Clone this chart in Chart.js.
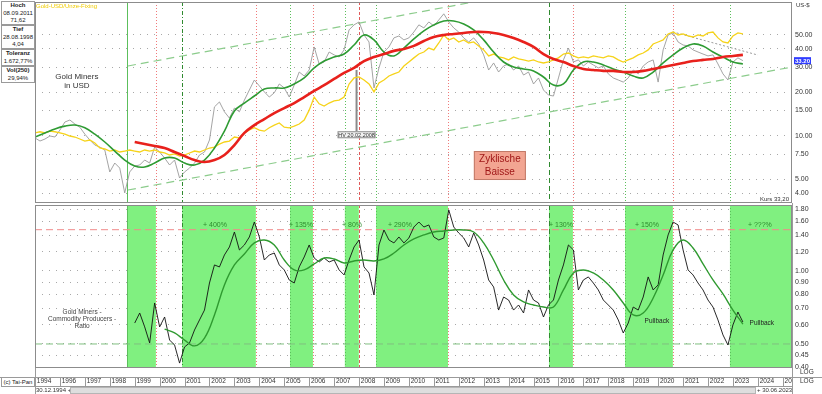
<!DOCTYPE html>
<html>
<head>
<meta charset="utf-8">
<title>Gold Miners in USD / Gold Miners - Commodity Producers - Ratio</title>
<script src="https://cdn.jsdelivr.net/npm/chart.js@4.4.1/dist/chart.umd.min.js"></script>
<style>
  html, body { margin: 0; padding: 0; background: #fff; }
  body { position: relative; width: 822px; height: 394px; overflow: hidden;
         font-family: "Liberation Sans", Arial, sans-serif; color: #222; }
  canvas { position: absolute; left: 0; }
  #upper { top: 0; }
  #lower { top: 203px; }
  .box { position: absolute; left: 1px; width: 32px; border: 1px solid #9a9a9a; text-align: center;
         font-size: 6px; line-height: 7.5px; background: #fff; }
  .txt { position: absolute; font-size: 6px; line-height: 8px; white-space: nowrap; color: #333; }
</style>
</head>
<body>
<canvas id="upper" width="822" height="205"></canvas>
<canvas id="lower" width="822" height="191"></canvas>

<div class="box" style="top:1px;height:22px"><b>Hoch</b><br>08.09.2011<br>71,62</div>
<div class="box" style="top:25px;height:22px"><b>Tief</b><br>28.08.1998<br>4,04</div>
<div class="box" style="top:49px;height:15px"><b>Toleranz</b><br>1.672,77%</div>
<div class="box" style="top:66px;height:15px"><b>Vol(250)</b><br>29,94%</div>

<div class="txt" style="left:796px;top:1px">US-$</div>
<div class="txt" style="left:800px;top:368px;font-size:6.5px">LOG</div>
<div class="txt" style="left:800px;top:377px;font-size:6.5px">LOG</div>
<div class="box" style="top:377px;height:8px;line-height:8px">(c) Tai-Pan</div>
<div class="txt" style="left:36px;top:386px">30.12.1994 +</div>
<div style="position:absolute;left:70px;top:387px;width:684px;height:5px;background:#dedede;border:1px solid #b5b5b5"></div>
<div class="txt" style="left:757px;top:386px">+ 30.06.2023</div>

<script>
// Zeitachse in Dezimaljahren (30.12.1994 = 1995.0)
const X_MIN = 1995.0;
const X_MAX = 2025.37;

// Gold Miners in USD, alle 0,2 Jahre ab 1995.0
const minersUSD = [
  9.69, 9.23, 9.53, 10.0, 9.84, 11.0, 12.5, 12.9, 12.1, 11.5,
  10.3, 9.38, 8.66, 8.39, 8.0, 5.64, 6.5, 6.0, 4.04, 5.64,
  6.2, 6.3, 6.82, 6.5, 8.39, 7.75, 7.04, 6.3, 6.82, 5.12,
  5.64, 6.0, 6.5, 7.39, 7.75, 9.38, 15.9, 17.2, 14.7, 13.3,
  15.6, 14.7, 17.7, 20.8, 24.4, 22.2, 20.2, 18.6, 19.9, 22.9,
  21.5, 18.6, 22.5, 27.7, 26.0, 28.6, 41.3, 31.5, 32.5, 38.1,
  36.4, 35.2, 39.4, 54.2, 58.7, 61.5, 50.0, 44.7, 21.5, 29.6,
  38.1, 41.3, 47.7, 49.2, 46.2, 47.7, 52.4, 58.7, 55.9, 61.5,
  57.7, 63.5, 70.0, 61.5, 55.9, 52.4, 47.7, 44.7, 47.7, 43.3,
  36.4, 28.6, 32.0, 27.7, 30.5, 31.5, 28.6, 30.5, 26.4, 27.7,
  22.9, 25.2, 20.8, 19.2, 18.9, 25.2, 33.6, 40.6, 32.5, 33.6,
  30.5, 32.5, 31.0, 29.6, 30.5, 26.9, 25.2, 24.4, 23.6, 25.2,
  28.6, 26.9, 30.5, 32.5, 33.6, 23.6, 39.4, 50.0, 51.6, 44.7,
  42.6, 42.0, 39.4, 38.1, 36.9, 35.8, 36.4, 31.5, 26.9, 24.4,
  32.5, 34.7, 33.2
];

// Gold-Fixing (skaliert), alle 0,2 Jahre ab 1995.0
const goldFixing = [
  10.5, 10.7, 10.5, 10.8, 10.7, 10.5, 10.3, 10.0, 9.84, 9.53,
  9.23, 9.38, 8.95, 8.26, 8.13, 7.87, 8.0, 7.75, 7.87, 8.0,
  7.87, 7.75, 8.0, 7.87, 8.0, 7.75, 7.63, 7.39, 7.51, 7.27,
  7.39, 7.63, 7.87, 7.75, 8.0, 8.26, 8.39, 8.80, 9.09, 9.23,
  9.84, 9.69, 10.5, 11.0, 11.4, 11.0, 10.8, 11.4, 11.9, 12.3,
  11.5, 11.4, 11.7, 12.1, 12.9, 15.1, 18.6, 16.7, 16.1, 16.9,
  17.5, 17.7, 18.6, 22.9, 25.2, 25.6, 24.4, 22.9, 20.2, 23.3,
  24.4, 26.0, 26.9, 27.7, 30.5, 32.5, 34.7, 36.9, 38.1, 40.6,
  39.4, 44.0, 50.0, 46.2, 47.7, 44.7, 46.2, 44.0, 44.7, 42.0,
  39.4, 35.8, 36.9, 35.2, 34.7, 33.6, 35.2, 34.1, 33.6, 33.0,
  33.6, 32.5, 32.0, 32.5, 33.6, 34.7, 36.9, 37.5, 35.8, 34.7,
  35.2, 34.7, 35.8, 35.2, 34.7, 35.8, 35.2, 33.6, 32.5, 33.6,
  34.7, 36.4, 37.5, 39.4, 43.3, 44.7, 46.2, 50.8, 52.4, 50.0,
  50.8, 49.2, 48.4, 50.0, 49.2, 51.6, 52.4, 47.7, 44.7, 44.0,
  49.2, 51.6, 50.8
];

// gleitende Durchschnitte, alle 0,4 Jahre
const minersMA = [
  9.84, 10.5, 11.2, 11.7, 11.9, 11.4, 10.3, 9.09, 7.87, 6.82,
  6.2, 6.1, 6.5, 7.04, 7.04, 6.5, 6.3, 6.82, 8.26, 10.8,
  14.9, 16.9, 18.9, 21.1, 21.5, 21.5, 22.9, 25.2, 29.6, 33.0,
  35.2, 36.9, 42.6, 50.0, 46.2, 38.1, 35.8, 40.6, 46.9, 53.3,
  58.7, 62.5, 62.5, 59.6, 54.2, 46.2, 38.1, 32.5, 30.0, 29.1,
  28.2, 25.6, 22.5, 22.9, 28.6, 32.5, 32.5, 31.0, 29.1, 27.7,
  26.0, 25.2, 27.7, 32.0, 36.4, 40.6, 43.3, 42.0, 38.1, 35.2,
  32.5, 31.5
];
const minersLongMA = [ // ab 1999.0
  9.09, 8.80, 8.53, 8.26, 7.75, 7.27, 6.82, 6.61, 6.82, 7.39,
  8.66, 10.5, 11.9, 13.1, 14.4, 15.6, 16.9, 18.6, 20.5, 22.5,
  24.8, 27.3, 29.6, 33.0, 35.2, 36.9, 38.8, 40.0, 42.0, 45.4,
  48.4, 50.0, 50.8, 51.6, 52.4, 52.4, 51.6, 50.0, 47.7, 44.7,
  41.3, 36.9, 34.1, 32.5, 30.5, 29.1, 28.6, 28.2, 28.2, 27.7,
  27.7, 28.2, 29.1, 30.0, 31.0, 32.0, 33.0, 33.6, 34.1, 35.2,
  35.8, 36.4
];

// Gold Miners / Commodity Producers Ratio, alle 0,2 Jahre ab 1999.0
const ratio = [
  0.610, 0.671, 0.588, 0.505, 0.738, 0.588, 0.646, 0.519, 0.495, 0.417,
  0.486, 0.505, 0.571, 0.628, 0.690, 0.892, 1.059, 1.039, 1.164, 1.256,
  1.448, 1.221, 1.280, 1.381, 1.592, 1.381, 1.110, 1.164, 1.186, 1.059,
  1.010, 0.918, 0.892, 1.039, 1.142, 1.280, 1.131, 1.089, 1.131, 1.089,
  1.110, 1.010, 0.963, 1.110, 1.256, 1.342, 1.039, 0.981, 0.796, 1.280,
  1.476, 1.342, 1.305, 1.381, 1.305, 1.368, 1.518, 1.592, 1.518, 1.548,
  1.381, 1.342, 1.368, 1.785, 1.518, 1.434, 1.368, 1.256, 1.434, 1.280,
  1.110, 0.918, 0.859, 0.690, 0.781, 0.759, 0.690, 0.724, 0.671, 0.835,
  0.759, 0.738, 0.646, 0.724, 0.759, 0.918, 1.059, 1.280, 1.221, 0.835,
  0.918, 0.945, 0.892, 0.835, 0.759, 0.724, 0.690, 0.628, 0.555, 0.610,
  0.710, 0.690, 0.781, 0.945, 0.835, 0.876, 1.164, 1.408, 1.592, 1.548,
  1.221, 1.010, 0.963, 0.892, 0.835, 0.759, 0.710, 0.628, 0.545, 0.495,
  0.599, 0.677, 0.616
];
const ratioMA = [ // ab 2000.2, alle 0,4 Jahre
  0.576, 0.555, 0.519, 0.491, 0.529, 0.659, 0.876, 1.059, 1.175, 1.305,
  1.342, 1.280, 1.110, 1.010, 1.010, 1.069, 1.131, 1.121, 1.079, 1.100,
  1.110, 1.100, 1.121, 1.186, 1.280, 1.355, 1.408, 1.448, 1.462, 1.476,
  1.476, 1.448, 1.305, 1.110, 0.918, 0.796, 0.745, 0.724, 0.710, 0.710,
  0.835, 0.981, 1.010, 0.981, 0.918, 0.835, 0.738, 0.659, 0.671, 0.774,
  0.963, 1.221, 1.342, 1.244, 1.069, 0.918, 0.804, 0.690, 0.604
];

// Trendkanal und Widerstand (Jahr, Kurs)
const trendLower = [[1998.73, 4.23], [2025.37, 30.0]];
const trendUpper = [[1998.73, 30.5], [2025.37, 216]];
const resistance = [[2020.59, 52.5], [2024.0, 36.3]];
const ratioHigh = 1.48;
const ratioLow = 0.50;

// Haussephasen Ratio (Beginn / Ende) und Zuwachs
const phaseStart = [1998.69, 2000.90, 2005.23, 2007.43, 2008.68, 2015.62, 2018.67, 2022.88];
const phaseEnd = [1999.85, 2003.86, 2006.15, 2007.99, 2011.57, 2016.58, 2020.59, null];
const phaseGain = ['', '+ 400%', '+ 135%', '+ 80%', '+ 290%', '+ 130%', '+ 150%', '+ ???%'];
const phaseGainAt = [null, 2002.22, 2005.67, 2007.72, 2009.64, 2016.1, 2019.55, 2024.08];

// Achsen
const upperTicks = [4, 5, 7.5, 10, 15, 20, 30, 40, 50];
const lowerTicks = [0.4, 0.45, 0.5, 0.6, 0.7, 0.8, 0.9, 1.0, 1.2, 1.4, 1.6, 1.8];
const yearTicks = [1995, 1996, 1997, 1998, 1999, 2000, 2001, 2002, 2003, 2004, 2005, 2006, 2007, 2008, 2009,
  2010, 2011, 2012, 2013, 2014, 2015, 2016, 2017, 2018, 2019, 2020, 2021, 2022, 2023, 2024, 2025];
const yearLabels = ['1994', '1996', '1997', '1998', '1999', '2000', '2001', '2002', '2003', '2004', '2005', '2006',
  '2007', '2008', '2009', '2010', '2011', '2012', '2013', '2014', '2015', '2016', '2017', '2018', '2019', '2020',
  '2021', '2022', '2023', '2024', '20'];

const FONT = '"Liberation Sans", Arial, sans-serif';

const series = (vals, start, step) => vals.map((v, i) => ({ x: start + i * step, y: v }));
const pairs = (arr) => arr.map(([x, y]) => ({ x, y }));

// Stil der Phasenlinien
const startStyle = [
  { color: '#5cbf5c', dash: [] },
  { color: '#2f8a2f', dash: [4, 2, 1, 2] },
  { color: '#5cbf5c', dash: [1, 2] },
  { color: '#5cbf5c', dash: [1, 2] },
  { color: '#5cbf5c', dash: [1, 2] },
  { color: '#2f8a2f', dash: [5, 3] },
  { color: '#5cbf5c', dash: [1, 2] },
  { color: '#5cbf5c', dash: [1, 2] }
];
const endStyle = (i) => i === 3 ? { color: '#e05a5a', dash: [3, 2] } : { color: '#f07a7a', dash: [1, 2] };

function vline(ctx, xp, top, bottom, style, width) {
  ctx.save();
  ctx.strokeStyle = style.color;
  ctx.lineWidth = width || 1;
  ctx.setLineDash(style.dash);
  ctx.beginPath();
  ctx.moveTo(Math.round(xp) + 0.5, top);
  ctx.lineTo(Math.round(xp) + 0.5, bottom);
  ctx.stroke();
  ctx.restore();
}

function frame(ctx, a) {
  ctx.save();
  ctx.strokeStyle = '#8c8c8c';
  ctx.lineWidth = 1;
  ctx.strokeRect(a.left + 0.5, a.top + 0.5, a.right - a.left - 1, a.bottom - a.top - 1);
  ctx.restore();
}

function phaseLines(chart) {
  const { ctx, chartArea: a, scales: { x } } = chart;
  phaseStart.forEach((s, i) => vline(ctx, x.getPixelForValue(s), a.top, a.bottom, startStyle[i]));
  phaseEnd.forEach((e, i) => { if (e !== null) vline(ctx, x.getPixelForValue(e), a.top, a.bottom, endStyle(i)); });
}

const upperDecor = {
  id: 'upperDecor',
  beforeDatasetsDraw(chart) {
    const { ctx, scales: { x, y } } = chart;
    phaseLines(chart);
    // HV-Markierung
    ctx.save();
    ctx.strokeStyle = '#8a8a8a';
    ctx.lineWidth = 2;
    const hx = x.getPixelForValue(2007.9);
    ctx.beginPath();
    ctx.moveTo(hx, y.getPixelForValue(28.6));
    ctx.lineTo(hx, y.getPixelForValue(10.7));
    ctx.stroke();
    ctx.restore();
  },
  afterDraw(chart) {
    const { ctx, chartArea: a, scales: { x, y } } = chart;
    frame(ctx, a);
    ctx.save();
    ctx.textBaseline = 'middle';

    ctx.fillStyle = '#f0cc00';
    ctx.font = '6px ' + FONT;
    ctx.textAlign = 'left';
    ctx.fillText('Gold-USD/Unze-Fixing', a.left + 1, a.top + 4);

    ctx.fillStyle = '#333';
    ctx.font = '8px ' + FONT;
    ctx.textAlign = 'center';
    const gx = x.getPixelForValue(1996.68), gy = y.getPixelForValue(23.9);
    ctx.fillText('Gold Miners', gx, gy - 4.5);
    ctx.fillText('in USD', gx, gy + 4.5);

    // HV-Box
    const hx = x.getPixelForValue(2007.9), hy = y.getPixelForValue(10.7) + 3;
    ctx.fillStyle = '#f2f2f2';
    ctx.fillRect(hx - 19, hy - 3.5, 38, 7);
    ctx.strokeStyle = '#8a8a8a';
    ctx.lineWidth = 1;
    ctx.strokeRect(hx - 19 + 0.5, hy - 3.5 + 0.5, 37, 6);
    ctx.fillStyle = '#333';
    ctx.font = '5.5px ' + FONT;
    ctx.fillText('HV 20.02.2008', hx, hy + 0.5);

    // Zyklische Baisse
    const bx = x.getPixelForValue(2013.65), by = y.getPixelForValue(6.25);
    ctx.fillStyle = '#f2a592';
    ctx.fillRect(bx - 26, by - 14.5, 52, 29);
    ctx.strokeStyle = '#c27a68';
    ctx.strokeRect(bx - 26 + 0.5, by - 14.5 + 0.5, 51, 28);
    ctx.fillStyle = '#a01818';
    ctx.font = '10px ' + FONT;
    ctx.fillText('Zyklische', bx, by - 6);
    ctx.fillText('Baisse', bx, by + 7);

    // Kurs
    ctx.fillStyle = '#333';
    ctx.font = '6px ' + FONT;
    ctx.textAlign = 'right';
    ctx.fillText('Kurs 33,20', a.right - 3, a.bottom - 4);

    // aktueller Kurs an der Achse
    const ky = y.getPixelForValue(33.2);
    ctx.fillStyle = '#2f3cff';
    ctx.fillRect(a.right + 2, ky - 3.5, 17, 7);
    ctx.fillStyle = '#fff';
    ctx.textAlign = 'left';
    ctx.font = 'bold 6px ' + FONT;
    ctx.fillText('33.20', a.right + 3, ky + 0.5);
    ctx.restore();
  }
};

const lowerDecor = {
  id: 'lowerDecor',
  beforeDatasetsDraw(chart) {
    const { ctx, chartArea: a, scales: { x } } = chart;
    ctx.save();
    ctx.fillStyle = '#80f080';
    phaseStart.forEach((s, i) => {
      const x0 = x.getPixelForValue(s);
      const x1 = phaseEnd[i] === null ? a.right : x.getPixelForValue(phaseEnd[i]);
      ctx.fillRect(x0, a.top, x1 - x0, a.bottom - a.top);
    });
    ctx.restore();
    phaseLines(chart);
  },
  afterDraw(chart) {
    const { ctx, chartArea: a, scales: { x, y } } = chart;
    frame(ctx, a);
    ctx.save();
    ctx.textBaseline = 'middle';
    ctx.textAlign = 'center';

    ctx.fillStyle = '#2e8b2e';
    ctx.font = '7px ' + FONT;
    phaseGain.forEach((t, i) => {
      if (t) ctx.fillText(t, x.getPixelForValue(phaseGainAt[i]), y.getPixelForValue(1.55));
    });

    ctx.fillStyle = '#444';
    ctx.font = '6.5px ' + FONT;
    const rx = x.getPixelForValue(1996.89), ry = y.getPixelForValue(0.634);
    ctx.fillText('Gold Miners -', rx, ry - 7);
    ctx.fillText('Commodity Producers -', rx, ry);
    ctx.fillText('Ratio', rx, ry + 7);

    ctx.fillStyle = '#222';
    ctx.fillText('Pullback', x.getPixelForValue(2019.95), y.getPixelForValue(0.622));
    ctx.fillText('Pullback', x.getPixelForValue(2024.16), y.getPixelForValue(0.61));

    // Zeile der Jahreszahlen
    const top = a.bottom + 9, bottom = a.bottom + 18;
    ctx.strokeStyle = '#9a9a9a';
    ctx.lineWidth = 1;
    ctx.beginPath();
    ctx.moveTo(0, top + 0.5); ctx.lineTo(822, top + 0.5);
    ctx.moveTo(a.left, bottom + 0.5); ctx.lineTo(a.right, bottom + 0.5);
    x.ticks.forEach(t => {
      const p = Math.round(x.getPixelForValue(t.value)) + 0.5;
      if (p < a.right) { ctx.moveTo(p, top); ctx.lineTo(p, bottom); }
    });
    ctx.moveTo(a.left + 0.5, a.bottom); ctx.lineTo(a.left + 0.5, 191);
    ctx.moveTo(a.right + 0.5, 0); ctx.lineTo(a.right + 0.5, 191);
    ctx.stroke();
    ctx.restore();
  }
};

const baseOptions = {
  animation: false,
  responsive: false,
  events: [],
  elements: { point: { radius: 0 }, line: { tension: 0 } },
  plugins: { legend: { display: false }, tooltip: { enabled: false } }
};

function yAxis(min, max, ticks) {
  return {
    type: 'logarithmic',
    position: 'right',
    min, max,
    afterBuildTicks: s => { s.ticks = ticks.map(v => ({ value: v })); },
    afterFit: s => { s.width = 30; s.paddingTop = 0; s.paddingBottom = 0; },
    ticks: {
      autoSkip: false,
      padding: 3,
      color: '#333',
      font: { size: 7, family: FONT },
      callback: v => Number(v).toFixed(2)
    },
    grid: { color: '#a8a8a8', drawTicks: false, lineWidth: 1 },
    border: { display: false, dash: [1, 6] }
  };
}

new Chart(document.getElementById('upper'), {
  type: 'line',
  data: {
    datasets: [
      { data: series(minersLongMA, 1999.0, 0.4), borderColor: '#e8211c', borderWidth: 2.6, tension: 0.4 },
      { data: series(minersMA, 1995.0, 0.4), borderColor: '#2e9b33', borderWidth: 1.6, tension: 0.4 },
      { data: series(goldFixing, 1995.0, 0.2), borderColor: '#f6d31a', borderWidth: 1.3 },
      { data: series(minersUSD, 1995.0, 0.2), borderColor: '#9a9a9a', borderWidth: 0.9 },
      { data: pairs(resistance), borderColor: '#9a9a9a', borderWidth: 1, borderDash: [2, 2] },
      { data: pairs(trendUpper), borderColor: '#8ccc8c', borderWidth: 1.2, borderDash: [8, 5] },
      { data: pairs(trendLower), borderColor: '#8ccc8c', borderWidth: 1.2, borderDash: [8, 5] }
    ]
  },
  options: {
    ...baseOptions,
    layout: { padding: { left: 35, right: 0, top: 2, bottom: 2 } },
    scales: {
      x: { type: 'linear', min: X_MIN, max: X_MAX, display: false },
      y: yAxis(3.44, 84.5, upperTicks)
    }
  },
  plugins: [upperDecor]
});

new Chart(document.getElementById('lower'), {
  type: 'line',
  data: {
    datasets: [
      { data: series(ratioMA, 2000.2, 0.4), borderColor: '#2f9a30', borderWidth: 1.4, tension: 0.4 },
      { data: series(ratio, 1999.0, 0.2), borderColor: '#111', borderWidth: 0.9 },
      { data: [{ x: X_MIN, y: ratioHigh }, { x: X_MAX, y: ratioHigh }], borderColor: '#f08a8a', borderWidth: 1, borderDash: [7, 4] },
      { data: [{ x: X_MIN, y: ratioLow }, { x: X_MAX, y: ratioLow }], borderColor: '#7fbf7f', borderWidth: 1, borderDash: [7, 4] }
    ]
  },
  options: {
    ...baseOptions,
    layout: { padding: { left: 35, right: 0, top: 2, bottom: 0 } },
    scales: {
      x: {
        type: 'linear', min: X_MIN, max: X_MAX,
        afterBuildTicks: s => { s.ticks = yearTicks.map(v => ({ value: v })); },
        afterFit: s => { s.height = 26; s.paddingLeft = 0; s.paddingRight = 0; },
        ticks: {
          autoSkip: false, maxRotation: 0, align: 'start', padding: 9,
          color: '#333', font: { size: 6.5, family: FONT },
          callback: (v, i) => ' ' + yearLabels[i]
        },
        grid: { display: false, drawTicks: false },
        border: { display: false }
      },
      y: yAxis(0.398, 1.871, lowerTicks)
    }
  },
  plugins: [lowerDecor]
});
</script>
</body>
</html>
